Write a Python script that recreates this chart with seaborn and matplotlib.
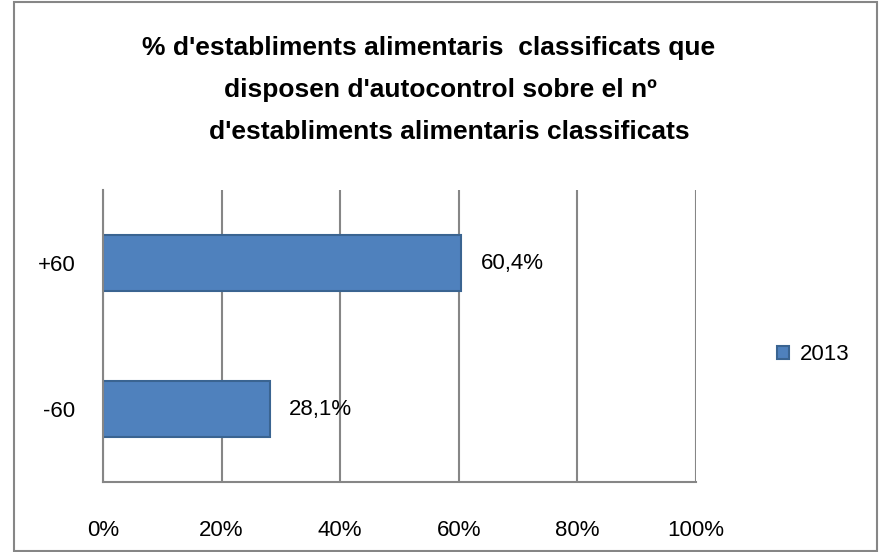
import numpy as np
import pandas as pd
import seaborn as sns
import matplotlib.pyplot as plt
from matplotlib.patches import Rectangle

# data
categories = ["+60", "-60"]
values = [60.4, 28.1]
series = "2013"
xticks = [0, 20, 40, 60, 80, 100]
title_lines = [
    "% d'establiments alimentaris  classificats que",
    "disposen d'autocontrol sobre el nº",
    "d'establiments alimentaris classificats",
]
title_x = [429, 440, 449]  # pixel centres of each title line

sns.set_style("white")
plt.rcParams['font.family'] = ['Liberation Sans', 'DejaVu Sans']
plt.rcParams['text.color'] = 'black'
plt.rcParams['xtick.color'] = 'black'
plt.rcParams['ytick.color'] = 'black'

df = pd.DataFrame({"grup": categories, "pct": values, "any": [series] * len(values)})

fig = plt.figure(figsize=(8.91, 5.52), dpi=100)
ax = fig.add_axes([103 / 891, 1 - 482 / 552, 593 / 891, 292 / 552])

sns.barplot(data=df, x="pct", y="grup", hue="any", orient="h", ax=ax,
            palette=["#4F81BD"], width=0.39, edgecolor="#3A6491", linewidth=1.5,
            saturation=1, legend=True)

ax.set_xlim(0, 100)
ax.set_ylim(1.5, -0.5)
ax.set_xticks(xticks)
ax.set_xticklabels([f"{t}%" for t in xticks])
ax.set_xlabel("")
ax.set_ylabel("")
ax.grid(axis="x", color="#868686", linewidth=1.5)
ax.set_axisbelow(True)
for side in ["top", "right"]:
    ax.spines[side].set_visible(False)
for side in ["left", "bottom"]:
    ax.spines[side].set_color("#868686")
    ax.spines[side].set_linewidth(1.5)
ax.tick_params(axis="x", length=0, pad=27, labelsize=16, labelcolor="black")
ax.tick_params(axis="y", length=0, pad=20, labelsize=16, labelcolor="black")

labels = [f"{v:.1f}%".replace(".", ",") for v in values]
ax.bar_label(ax.containers[0], labels=labels, padding=14, fontsize=16, color="black")

ax.legend_.remove()
handles, _ = ax.get_legend_handles_labels()
fig.legend(handles, [series], loc="center left", bbox_to_anchor=(757 / 891, 1 - 355 / 552),
           frameon=False, fontsize=16, handlelength=0.55, handleheight=0.55, handletextpad=0.5)

for i, line in enumerate(title_lines):
    fig.text(title_x[i] / 891, 1 - (48 + 42 * i) / 552, line, ha="center", va="center",
             fontsize=19, fontweight="bold", color="black")

fig.add_artist(Rectangle((14 / 891, 1 / 552), 863 / 891, 549 / 552, transform=fig.transFigure,
                         fill=False, edgecolor="#868686", linewidth=1.5))

fig.savefig("out.png", dpi=100)
